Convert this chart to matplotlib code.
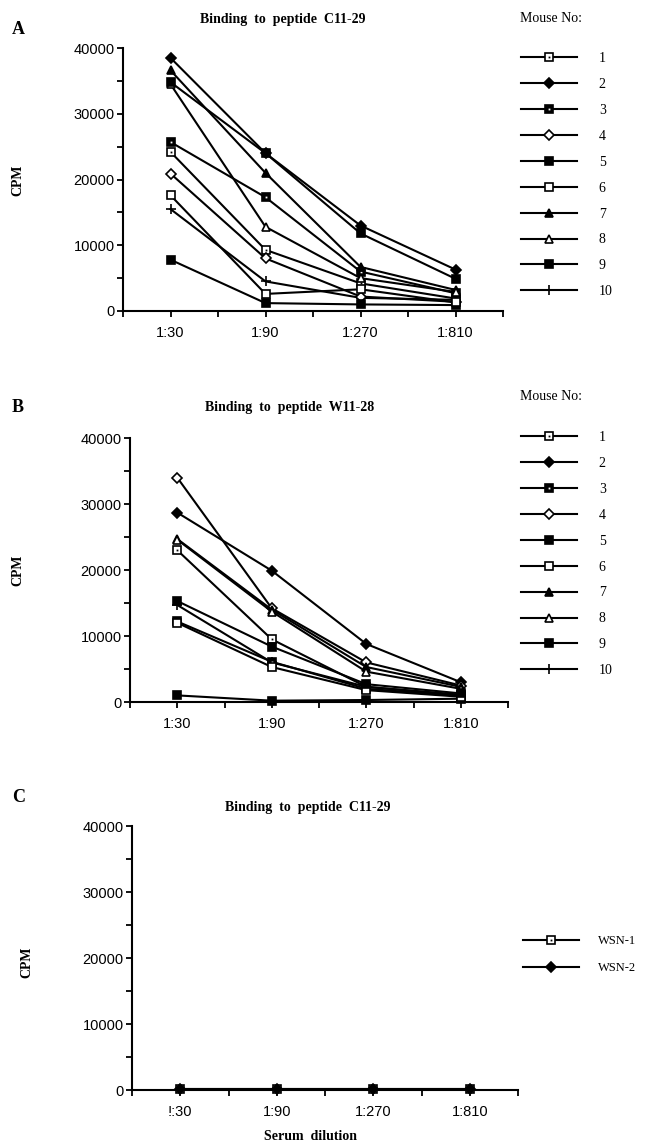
import numpy as np
import matplotlib.pyplot as plt

# serum dilutions on the x axis
dilutions = ['1:30', '1:90', '1:270', '1:810']
dilutions_c = ['!:30', '1:90', '1:270', '1:810']
mice = ['1', '2', '3', '4', '5', '6', '7', '8', '9', '10']
wsn = ['WSN-1', 'WSN-2']

# CPM, one row per mouse (1..10)
cpm_a = [
    [24200, 9300, 4200, 1900],
    [38500, 24000, 13000, 6300],
    [25700, 17300, 6000, 2700],
    [20900, 8000, 2200, 1400],
    [7800, 1200, 1000, 900],
    [17600, 2600, 3300, 1300],
    [36600, 21000, 6700, 3200],
    [34500, 12800, 5000, 2900],
    [34800, 24000, 11800, 4900],
    [15500, 4500, 2000, 1700],
]
cpm_b = [
    [23000, 9500, 2300, 1000],
    [28700, 19900, 8800, 3000],
    [12200, 6100, 2000, 900],
    [34000, 14200, 6000, 2500],
    [1000, 200, 300, 500],
    [12000, 5300, 1800, 800],
    [24700, 14000, 5300, 2300],
    [24600, 13700, 4600, 2000],
    [15300, 8400, 2700, 1300],
    [14700, 6000, 2300, 1100],
]
cpm_c = [
    [100, 100, 100, 100],
    [100, 100, 100, 100],
]

# marker style per mouse: (marker, filled, dot in centre)
styles = [('s', False, True), ('D', True, False), ('s', True, True), ('D', False, False),
          ('s', True, False), ('s', False, False), ('^', True, False), ('^', False, False),
          ('s', True, False), ('+', True, False)]
# draw order (mouse 10 under the rest, as in the print)
order = [9, 0, 1, 2, 3, 4, 5, 6, 7, 8]

serif = 'Liberation Serif'
plt.rcParams['font.family'] = 'Liberation Sans'

W, H = 649, 1143
fig = plt.figure(figsize=(W / 100, H / 100), dpi=100)


def fx(px):
    return px / W


def fy(py):
    return 1 - py / H


def draw_series(ax, x, y, st, z):
    m, filled, dot = st
    ms = 6.5 if m == '+' else (4.6 if m == 'D' else 5.2)
    h = ax.plot(x, y, color='black', lw=1.5, marker=m, ms=ms,
                mfc='black' if filled else 'white', mec='black', mew=1.2,
                clip_on=False, zorder=z)[0]
    if dot:
        d = ax.plot(x, y, ls='none', marker='s', ms=1.3,
                    color='white' if filled else 'black', mec='none',
                    clip_on=False, zorder=z + 0.5)[0]
        return (h, d)
    return h


def setup(ax, labels):
    ax.set_xlim(0.5, 4.5)
    ax.set_ylim(0, 40000)
    for s in ['top', 'right']:
        ax.spines[s].set_visible(False)
    for s in ['left', 'bottom']:
        ax.spines[s].set_linewidth(1.5)
    ax.set_xticks([1, 2, 3, 4])
    ax.set_xticklabels(labels)
    ax.set_xticks(np.arange(0.5, 4.6, 1.0), minor=True)
    ax.set_yticks(np.arange(0, 40001, 10000))
    ax.set_yticks(np.arange(5000, 40000, 10000), minor=True)
    ax.tick_params(which='both', direction='out', width=1.3, length=4, labelsize=10.5)
    ax.tick_params(axis='x', pad=7)
    ax.tick_params(axis='y', pad=2)


def panel(rect, data, xlabels, sty, names, leg_anchor, leg_space, fs, hl, tp):
    ax = fig.add_axes(rect)
    x = np.arange(1, 5)
    handles = [None] * len(data)
    idx = order if len(data) == len(order) else range(len(data))
    for k, i in enumerate(idx):
        handles[i] = draw_series(ax, x, data[i], sty[i], 3 + k)
    setup(ax, xlabels)
    ax.legend(handles, names, loc='upper left', bbox_to_anchor=leg_anchor,
              bbox_transform=fig.transFigure, frameon=False, handlelength=hl,
              handletextpad=tp, labelspacing=leg_space, borderpad=0, borderaxespad=0,
              prop={'family': serif, 'size': fs})
    return ax


axA = panel([fx(123), fy(311), 380 / W, 263 / H], cpm_a, dilutions, styles, mice,
            (fx(521), fy(52)), 0.93, 10, 4.0, 1.6)
axB = panel([fx(130), fy(702), 378 / W, 264 / H], cpm_b, dilutions, styles, mice,
            (fx(521), fy(431)), 0.93, 10, 4.0, 1.6)
axC = panel([fx(132), fy(1090), 386 / W, 264 / H], cpm_c, dilutions_c,
            [('s', False, True), ('D', True, False)], wsn, (fx(523), fy(935)),
            1.2, 9, 4.5, 1.5)

# panel letters, titles and axis labels
for lab, y in [('A', 30), ('B', 408), ('C', 797)]:
    fig.text(fx(12), fy(y), lab, family=serif, weight='bold', size=13, va='center')
for t, x, y in [('Binding  to  peptide  C11-29', 283, 20),
                ('Binding  to  peptide  W11-28', 290, 408),
                ('Binding  to  peptide  C11-29', 308, 808)]:
    fig.text(fx(x), fy(y), t, family=serif, weight='bold', size=10, ha='center', va='center')
for x, y in [(18, 180), (18, 570), (27, 962)]:
    fig.text(fx(x), fy(y), 'CPM', family=serif, weight='bold', size=10,
             rotation=90, ha='center', va='center')
fig.text(fx(310), fy(1136), 'Serum  dilution', family=serif, weight='bold', size=10,
         ha='center', va='center')
fig.text(fx(520), fy(18), 'Mouse No:', family=serif, size=10, va='center')
fig.text(fx(520), fy(396), 'Mouse No:', family=serif, size=10, va='center')

fig.savefig('out.png', dpi=100)
